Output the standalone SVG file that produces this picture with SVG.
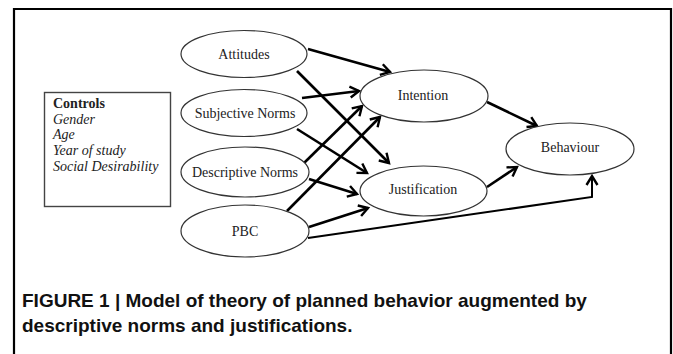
<svg xmlns="http://www.w3.org/2000/svg" width="673" height="354" viewBox="0 0 673 354">
<style>
.node ellipse{fill:#fff;stroke:#333;stroke-width:1.2}
.node text{font-family:"Liberation Serif","Times New Roman",serif;font-size:14px;fill:#222;text-anchor:middle}
.ctl{font-family:"Liberation Serif","Times New Roman",serif;font-size:14px;fill:#222}
.edge{fill:none;stroke:#000;stroke-width:2.6;marker-end:url(#arr)}
.cap{font-family:"Liberation Sans",Arial,sans-serif;font-size:19px;font-weight:bold;fill:#111}
</style>
<defs>
<marker id="arr" markerUnits="userSpaceOnUse" markerWidth="14" markerHeight="14" refX="11" refY="7" orient="auto">
<path d="M2,1.5 L11,7 L2,12.5" fill="none" stroke="#000" stroke-width="2.4"/>
</marker>
</defs>
<rect width="673" height="354" fill="#fff"/>
<path d="M14,356 V9 H671 V356" fill="none" stroke="#000" stroke-width="2.2"/>
<g id="controls">
<rect x="44.5" y="92.5" width="126" height="114" fill="#fff" stroke="#444" stroke-width="1.4"/>
<text class="ctl" x="53" y="108" font-weight="bold">Controls</text>
<text class="ctl" x="53" y="124" font-style="italic">Gender</text>
<text class="ctl" x="53" y="139" font-style="italic">Age</text>
<text class="ctl" x="53" y="155" font-style="italic">Year of study</text>
<text class="ctl" x="53" y="171" font-style="italic">Social Desirability</text>
</g>
<g id="connectors">
<line class="edge" x1="308" y1="49" x2="390" y2="72"/>
<line class="edge" x1="297" y1="71" x2="389" y2="163"/>
<line class="edge" x1="302" y1="98" x2="359" y2="91"/>
<line class="edge" x1="297" y1="129" x2="367" y2="173"/>
<line class="edge" x1="304" y1="163" x2="362" y2="106"/>
<line class="edge" x1="309" y1="179" x2="357" y2="194"/>
<line class="edge" x1="287" y1="211" x2="380" y2="117"/>
<line class="edge" x1="309" y1="227" x2="368" y2="208"/>
<polyline class="edge" style="stroke-width:2" points="308,238 592,197 592,176"/>
<line class="edge" x1="487" y1="102" x2="537" y2="126"/>
<line class="edge" x1="487" y1="187" x2="517" y2="167"/>
</g>
<g id="attitudes" class="node"><ellipse cx="244" cy="54" rx="63" ry="23.5"/><text x="244" y="59">Attitudes</text></g>
<g id="subjective-norms" class="node"><ellipse cx="244" cy="113" rx="63" ry="23.5"/><text x="245" y="118">Subjective Norms</text></g>
<g id="descriptive-norms" class="node"><ellipse cx="245" cy="172" rx="64" ry="25"/><text x="245" y="177">Descriptive Norms</text></g>
<g id="pbc" class="node"><ellipse cx="245" cy="231" rx="64" ry="26"/><text x="245" y="236">PBC</text></g>
<g id="intention" class="node"><ellipse cx="424" cy="96" rx="64" ry="26"/><text x="423" y="100">Intention</text></g>
<g id="justification" class="node"><ellipse cx="423.5" cy="191" rx="63.5" ry="25"/><text x="423" y="194">Justification</text></g>
<g id="behaviour" class="node"><ellipse cx="570" cy="149" rx="64" ry="26"/><text x="570" y="152">Behaviour</text></g>
<text class="cap" x="22" y="307">FIGURE 1 | Model of theory of planned behavior augmented by</text>
<text class="cap" x="22" y="332">descriptive norms and justifications.</text>
</svg>
